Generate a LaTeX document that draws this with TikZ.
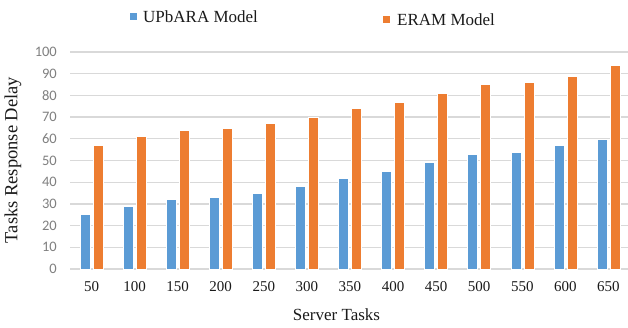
\documentclass[tikz,border=0pt]{standalone}
\usepackage{fontspec}
\setmainfont{Liberation Serif}
\newfontfamily\tickfont{Carlito}
\definecolor{upb}{HTML}{5B9BD5}
\definecolor{eram}{HTML}{ED7D31}
\definecolor{gridc}{HTML}{D9D9D9}
\definecolor{ticktxt}{HTML}{7F7F7F}
\definecolor{txt}{HTML}{1A1A1A}
\begin{document}
\begin{tikzpicture}[x=1pt,y=-1pt,
  gridline/.style={draw=gridc,line width=1.3pt},
  barbox/.style={draw=white,line width=0.5pt},
  ticklbl/.style={font=\tickfont\fontsize{14.5}{16}\selectfont,text=ticktxt,inner sep=0pt,anchor=east},
  xlbl/.style={font=\fontsize{15}{17}\selectfont,text=txt,inner sep=0pt},
  axtitle/.style={font=\fontsize{17}{19}\selectfont,text=txt,inner sep=0pt},
  legtxt/.style={font=\fontsize{17}{19}\selectfont,text=txt,inner sep=0pt,anchor=base west}]
\useasboundingbox (0,0) rectangle (628,328);
\foreach \v in {0,10,...,100} {
  \draw[gridline] (70,{269-2.17*\v}) -- (628,{269-2.17*\v});
  \node[ticklbl] (t\v) at (57,{269-2.17*\v}) {\v};
}
\foreach \a/\b/\lab [count=\i from 0] in {25/57/50,29/61/100,32/64/150,33/65/200,35/67/250,38/70/300,42/74/350,45/77/400,49/81/450,53/85/500,54/86/550,57/89/600,60/94/650} {
  \pgfmathsetmacro\c{91.5+43.08*\i}
  \draw[barbox,fill=upb] ({\c-11.5},269) rectangle ({\c-1.5},{269-2.17*\a});
  \draw[barbox,fill=eram] ({\c+1.5},269) rectangle ({\c+11.5},{269-2.17*\b});
  \node[xlbl] (x\i) at (\c,287) {\lab};
}
\fill[upb] (129.5,13) rectangle (136.5,20);
\node[legtxt] (l1) at (143,23) {UPbARA Model};
\fill[eram] (382.5,16.5) rectangle (389.5,23.5);
\node[legtxt] (l2) at (397,26) {ERAM Model};
\node[axtitle,font=\fontsize{18.5}{20}\selectfont,rotate=90] (yt) at (13,160) {Tasks Response Delay};
\node[axtitle] (xt) at (336.5,315) {Server Tasks};
\end{tikzpicture}
\end{document}
